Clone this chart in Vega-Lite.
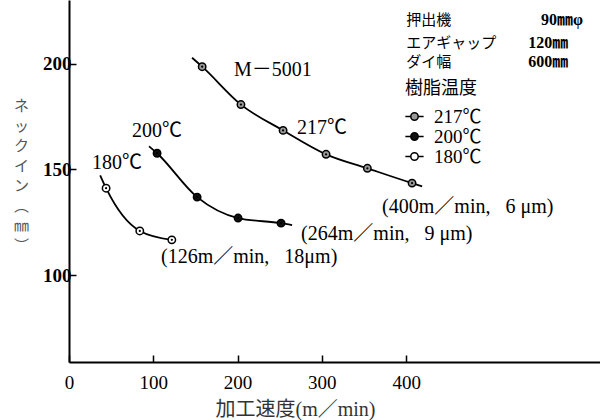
{
  "$schema": "https://vega.github.io/schema/vega-lite/v6.json",
  "width": 531,
  "height": 362,
  "autosize": "none",
  "padding": {"left": 69, "top": 0, "right": 0, "bottom": 58},
  "background": "white",
  "config": {"view": {"stroke": null}, "font": "Liberation Serif"},
  "datasets": {
    "curve": [
      {"series": "217℃", "speed": 146, "neckin": 202.7},
      {"series": "217℃", "speed": 158, "neckin": 198.5},
      {"series": "217℃", "speed": 204, "neckin": 180.6},
      {"series": "217℃", "speed": 254, "neckin": 168.4},
      {"series": "217℃", "speed": 305, "neckin": 157.1},
      {"series": "217℃", "speed": 354, "neckin": 150.5},
      {"series": "217℃", "speed": 407, "neckin": 143.5},
      {"series": "217℃", "speed": 419, "neckin": 142},
      {"series": "200℃", "speed": 95, "neckin": 160.9},
      {"series": "200℃", "speed": 104.5, "neckin": 157.6},
      {"series": "200℃", "speed": 152, "neckin": 136.9},
      {"series": "200℃", "speed": 200.6, "neckin": 127},
      {"series": "200℃", "speed": 251.6, "neckin": 124.6},
      {"series": "200℃", "speed": 264.7, "neckin": 123.7},
      {"series": "180℃", "speed": 37, "neckin": 147.2},
      {"series": "180℃", "speed": 44, "neckin": 141.1},
      {"series": "180℃", "speed": 84, "neckin": 120.9},
      {"series": "180℃", "speed": 122, "neckin": 116.7},
      {"series": "180℃", "speed": 124, "neckin": 116.6}
    ],
    "pts": [
      {"series": "217℃", "speed": 158, "neckin": 198.5},
      {"series": "217℃", "speed": 204, "neckin": 180.6},
      {"series": "217℃", "speed": 254, "neckin": 168.4},
      {"series": "217℃", "speed": 305, "neckin": 157.1},
      {"series": "217℃", "speed": 354, "neckin": 150.5},
      {"series": "217℃", "speed": 407, "neckin": 143.5},
      {"series": "200℃", "speed": 104.5, "neckin": 157.6},
      {"series": "200℃", "speed": 152, "neckin": 136.9},
      {"series": "200℃", "speed": 200.6, "neckin": 127},
      {"series": "200℃", "speed": 251.6, "neckin": 124.6},
      {"series": "180℃", "speed": 44, "neckin": 141.1},
      {"series": "180℃", "speed": 84, "neckin": 120.9},
      {"series": "180℃", "speed": 122, "neckin": 116.7}
    ],
    "notes": [
      {"speed": 195.8, "neckin": 197.1, "t": "M－5001", "w": "bold"},
      {"speed": 270.6, "neckin": 169.3, "t": "217℃", "w": "normal"},
      {"speed": 74.8, "neckin": 167.9, "t": "200℃", "w": "normal"},
      {"speed": 27.3, "neckin": 152.9, "t": "180℃", "w": "normal"},
      {"speed": 371.5, "neckin": 132.2, "t": "(400m／min,\u2002 6 μm)", "w": "normal"},
      {"speed": 275.4, "neckin": 119.5, "t": "(264m／min,\u2002 9 μm)", "w": "normal"},
      {"speed": 109.2, "neckin": 108.6, "t": "(126m／min,\u2002 18μm)", "w": "normal"}
    ],
    "headJ": [
      {"speed": 400, "neckin": 220.6, "t": "押出機"},
      {"speed": 400, "neckin": 209.8, "t": "エアギャップ"},
      {"speed": 400, "neckin": 200.6, "t": "ダイ幅"}
    ],
    "headV": [
      {"speed": 560, "neckin": 220.6, "t": "90㎜φ"},
      {"speed": 545, "neckin": 209.8, "t": "120㎜"},
      {"speed": 545, "neckin": 200.6, "t": "600㎜"}
    ]
  },
  "layer": [
    {
      "data": {"name": "curve"},
      "mark": {"type": "line", "interpolate": "monotone", "stroke": "black", "strokeWidth": 1.8},
      "encoding": {
        "x": {
          "field": "speed", "type": "quantitative",
          "scale": {"domain": [0, 630], "nice": false, "zero": false},
          "axis": {
            "values": [0, 100, 200, 300, 400],
            "grid": false,
            "domainColor": "black", "domainWidth": 2,
            "tickColor": "black", "tickWidth": 1.5, "tickSize": -7,
            "labelFont": "Liberation Serif", "labelFontSize": 19, "labelColor": "black",
            "labelPadding": 18, "labelFlush": false,
            "title": "加工速度(m／min)",
            "titleFont": "Liberation Serif, Noto Sans CJK JP", "titleFontSize": 20,
            "titleFontWeight": "normal", "titleColor": "#333",
            "titleX": 226, "titleY": 47, "titleBaseline": "middle", "titleAlign": "center"
          }
        },
        "y": {
          "field": "neckin", "type": "quantitative",
          "scale": {"domain": [59, 230], "nice": false, "zero": false},
          "axis": {
            "values": [100, 150, 200],
            "grid": false,
            "domainColor": "black", "domainWidth": 2,
            "tickColor": "black", "tickWidth": 1.5, "tickSize": -7,
            "labelFont": "Liberation Serif", "labelFontSize": 19, "labelColor": "black",
            "labelFontWeight": "bold", "labelPadding": 5,
            "title": ["ネ", "ッ", "ク", "イ", "ン", "︵", "㎜", "︶"],
            "titleFont": "Noto Sans CJK JP", "titleFontSize": 15, "titleFontWeight": "normal",
            "titleColor": "#555", "titleAngle": 0, "titleAlign": "center", "titleBaseline": "top",
            "titleX": -48, "titleY": 98, "titleLineHeight": 20
          }
        },
        "detail": {"field": "series"}
      }
    },
    {
      "data": {"name": "pts"},
      "mark": {"type": "point", "shape": "circle", "filled": true, "stroke": "black", "strokeWidth": 1.5, "size": 55, "opacity": 1},
      "encoding": {
        "x": {"field": "speed", "type": "quantitative"},
        "y": {"field": "neckin", "type": "quantitative"},
        "fill": {
          "field": "series", "type": "nominal",
          "scale": {"domain": ["217℃", "200℃", "180℃"], "range": ["#999999", "#111111", "white"]},
          "legend": {
            "orient": "none", "legendX": 336, "legendY": 80, "padding": 0,
            "title": "樹脂温度", "titleFont": "Noto Sans CJK JP", "titleFontSize": 18,
            "titleFontWeight": "normal", "titleColor": "black", "titlePadding": 9,
            "labelFont": "Liberation Serif, Noto Sans CJK JP", "labelFontSize": 19, "labelColor": "black",
            "labelOffset": 10, "rowPadding": 0,
            "symbolType": "M-1.6,0H-0.65M0.65,0H1.6M-0.65,0A0.65,0.65,0,1,0,0.65,0A0.65,0.65,0,1,0,-0.65,0Z",
            "symbolSize": 130, "symbolStrokeColor": "black", "symbolStrokeWidth": 1.5
          }
        }
      }
    },
    {
      "data": {"name": "pts"},
      "mark": {"type": "point", "shape": "circle", "filled": true, "color": "black", "size": 5, "opacity": 1},
      "encoding": {
        "x": {"field": "speed", "type": "quantitative"},
        "y": {"field": "neckin", "type": "quantitative"}
      }
    },
    {
      "data": {"name": "notes"},
      "mark": {"type": "text", "align": "left", "baseline": "middle", "font": "Liberation Serif, Noto Sans CJK JP", "fontSize": 20, "color": "black"},
      "encoding": {
        "x": {"field": "speed", "type": "quantitative"},
        "y": {"field": "neckin", "type": "quantitative"},
        "text": {"field": "t"},
        "fontWeight": {"field": "w", "type": "nominal", "scale": null}
      }
    },
    {
      "data": {"name": "headJ"},
      "mark": {"type": "text", "align": "left", "baseline": "middle", "font": "Noto Sans CJK JP", "fontSize": 15, "color": "black"},
      "encoding": {
        "x": {"field": "speed", "type": "quantitative"},
        "y": {"field": "neckin", "type": "quantitative"},
        "text": {"field": "t"}
      }
    },
    {
      "data": {"name": "headV"},
      "mark": {"type": "text", "align": "left", "baseline": "middle", "font": "Liberation Serif, Noto Sans CJK JP", "fontSize": 16, "fontWeight": "bold", "color": "black"},
      "encoding": {
        "x": {"field": "speed", "type": "quantitative"},
        "y": {"field": "neckin", "type": "quantitative"},
        "text": {"field": "t"}
      }
    }
  ]
}
